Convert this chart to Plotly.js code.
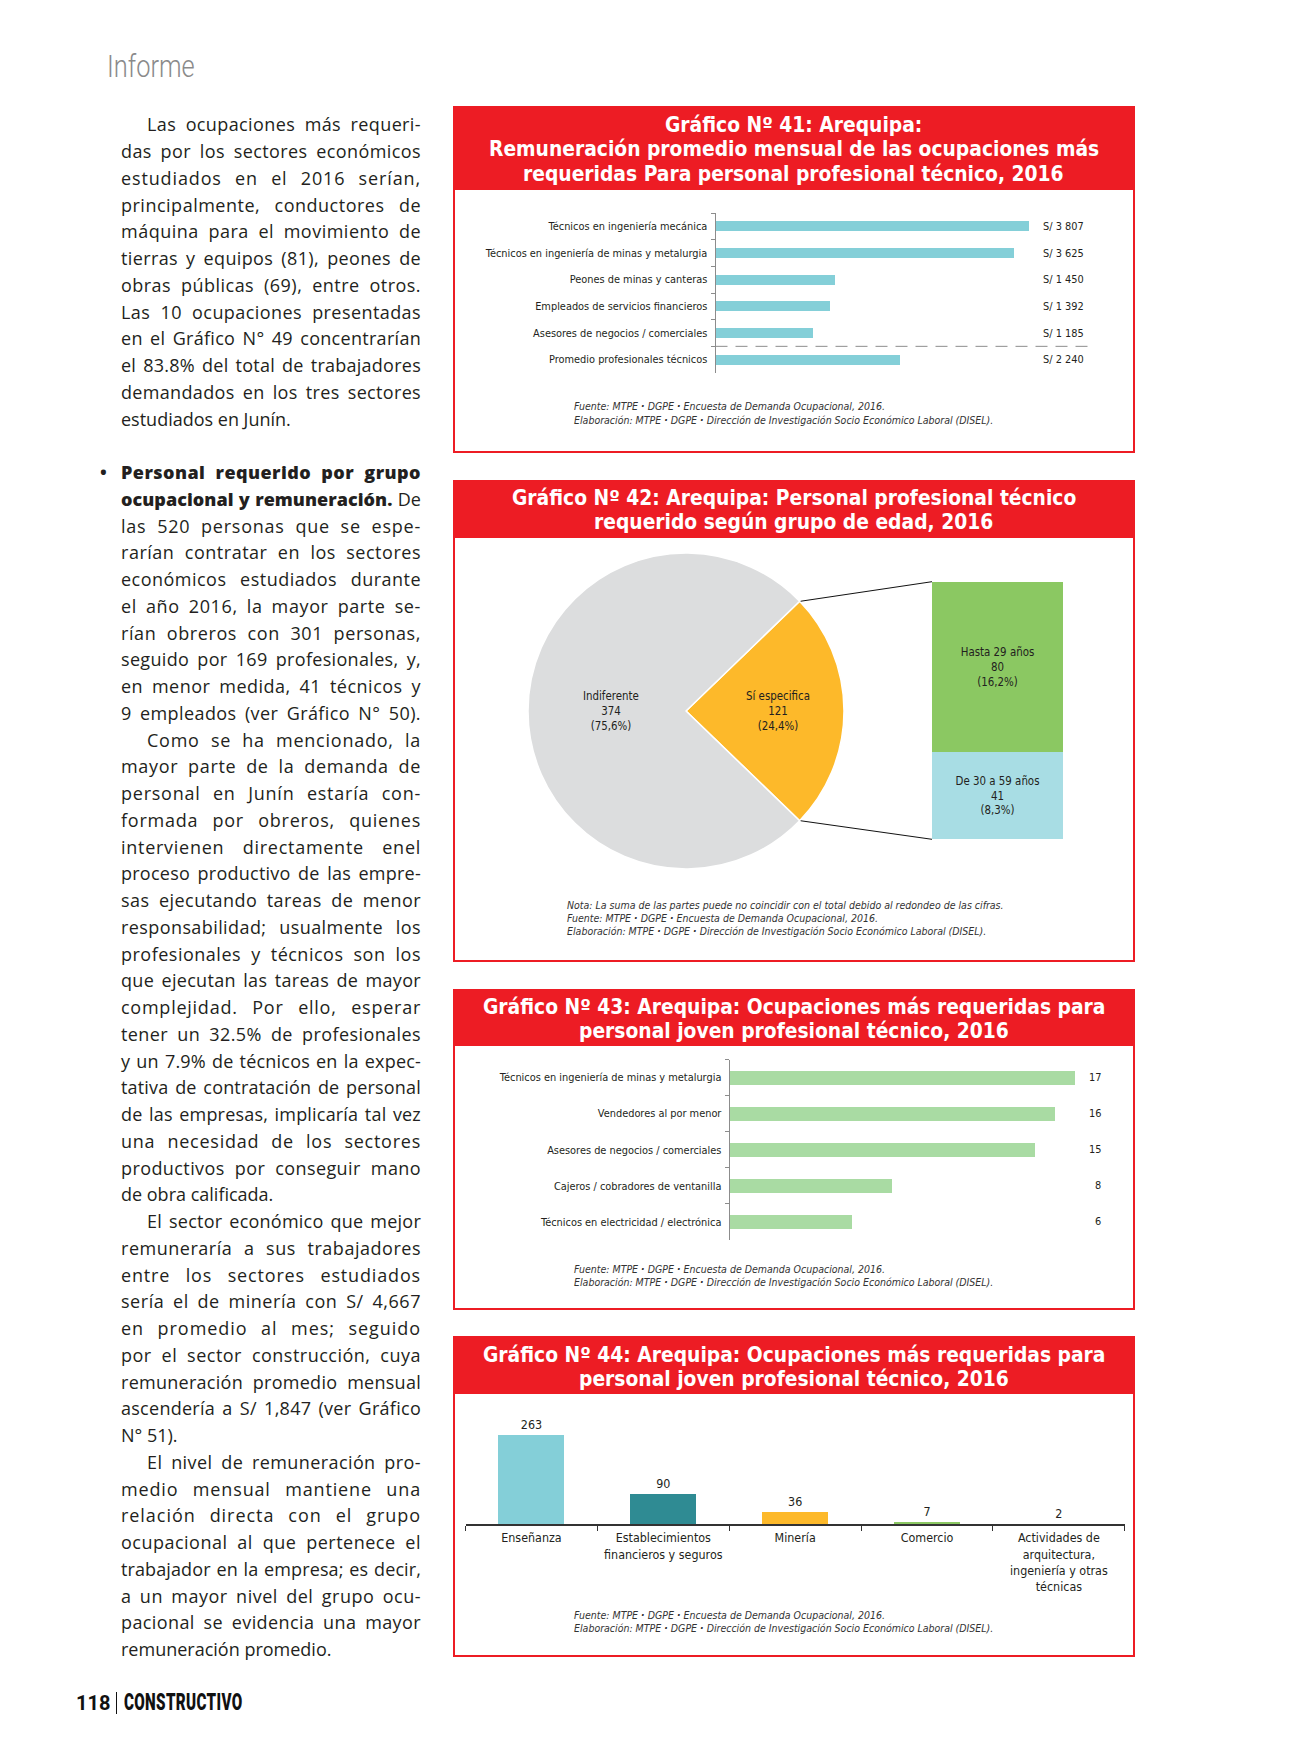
<!DOCTYPE html>
<html><head><meta charset="utf-8">
<script src="https://cdn.plot.ly/plotly-3.0.1.min.js"></script>
<style>
html,body{margin:0;padding:0;background:#fff;}
#page{position:relative;width:1291px;height:1763px;overflow:hidden;background:#fff;}
#chart{position:absolute;left:0;top:0;width:1291px;height:1763px;}
#informe{position:absolute;left:107px;top:50px;font-family:Roboto,sans-serif;font-weight:300;font-size:31px;color:#8a8a8a;transform:scaleX(0.82);transform-origin:left top;line-height:34px;}
#prose{position:absolute;left:121px;top:111.4px;width:300px;font-family:"Open Sans",sans-serif;font-size:18px;line-height:26.76px;color:#231f20;}
.ln{height:26.76px;overflow:visible;text-align:justify;text-align-last:justify;position:relative;}
.ln.last{text-align-last:left;}
.ln.ind{padding-left:26px;}
.ln b{font-weight:800;}
.bul{position:absolute;left:-21px;top:0;font-weight:700;}
#footer{position:absolute;left:76px;top:1689px;height:28px;font-family:Roboto,sans-serif;color:#111;}
#footer .num{position:absolute;left:0;top:0;font-weight:700;font-size:20px;line-height:28px;}
#footer .bar{position:absolute;left:40px;top:3px;width:1px;height:22px;background:#111;}
#footer .brand{position:absolute;left:48px;top:0;font-weight:900;font-size:23px;line-height:28px;transform:scaleX(0.66);transform-origin:left top;letter-spacing:0.5px;}
</style>
</head><body>
<div id="page">
<div id="chart"></div>
<div id="informe">Informe</div>
<div id="prose">
<div class="ln ind">Las ocupaciones más requeri-</div>
<div class="ln">das por los sectores económicos</div>
<div class="ln">estudiados en el 2016 serían,</div>
<div class="ln">principalmente, conductores de</div>
<div class="ln">máquina para el movimiento de</div>
<div class="ln">tierras y equipos (81), peones de</div>
<div class="ln">obras públicas (69), entre otros.</div>
<div class="ln">Las 10 ocupaciones presentadas</div>
<div class="ln">en el Gráfico N° 49 concentrarían</div>
<div class="ln">el 83.8% del total de trabajadores</div>
<div class="ln">demandados en los tres sectores</div>
<div class="ln last">estudiados en Junín.</div>
<div class="ln last">&nbsp;</div>
<div class="ln"><span class="bul">•</span><b>Personal requerido por grupo</b></div>
<div class="ln"><b>ocupacional y remuneración.</b> De</div>
<div class="ln">las 520 personas que se espe-</div>
<div class="ln">rarían contratar en los sectores</div>
<div class="ln">económicos estudiados durante</div>
<div class="ln">el año 2016, la mayor parte se-</div>
<div class="ln">rían obreros con 301 personas,</div>
<div class="ln">seguido por 169 profesionales, y,</div>
<div class="ln">en menor medida, 41 técnicos y</div>
<div class="ln">9 empleados (ver Gráfico N° 50).</div>
<div class="ln ind">Como se ha mencionado, la</div>
<div class="ln">mayor parte de la demanda de</div>
<div class="ln">personal en Junín estaría con-</div>
<div class="ln">formada por obreros, quienes</div>
<div class="ln">intervienen directamente enel</div>
<div class="ln">proceso productivo de las empre-</div>
<div class="ln">sas ejecutando tareas de menor</div>
<div class="ln">responsabilidad; usualmente los</div>
<div class="ln">profesionales y técnicos son los</div>
<div class="ln">que ejecutan las tareas de mayor</div>
<div class="ln">complejidad. Por ello, esperar</div>
<div class="ln">tener un 32.5% de profesionales</div>
<div class="ln">y un 7.9% de técnicos en la expec-</div>
<div class="ln">tativa de contratación de personal</div>
<div class="ln">de las empresas, implicaría tal vez</div>
<div class="ln">una necesidad de los sectores</div>
<div class="ln">productivos por conseguir mano</div>
<div class="ln last">de obra calificada.</div>
<div class="ln ind">El sector económico que mejor</div>
<div class="ln">remuneraría a sus trabajadores</div>
<div class="ln">entre los sectores estudiados</div>
<div class="ln">sería el de minería con S/ 4,667</div>
<div class="ln">en promedio al mes; seguido</div>
<div class="ln">por el sector construcción, cuya</div>
<div class="ln">remuneración promedio mensual</div>
<div class="ln">ascendería a S/ 1,847 (ver Gráfico</div>
<div class="ln last">N° 51).</div>
<div class="ln ind">El nivel de remuneración pro-</div>
<div class="ln">medio mensual mantiene una</div>
<div class="ln">relación directa con el grupo</div>
<div class="ln">ocupacional al que pertenece el</div>
<div class="ln">trabajador en la empresa; es decir,</div>
<div class="ln">a un mayor nivel del grupo ocu-</div>
<div class="ln">pacional se evidencia una mayor</div>
<div class="ln last">remuneración promedio.</div>
</div>
<div id="footer"><span class="num">118</span><span class="bar"></span><span class="brand">CONSTRUCTIVO</span></div>
</div>
<script>
// ---------------- DATA ----------------
const cat41 = ['Técnicos en ingeniería mecánica','Técnicos en ingeniería de minas y metalurgia','Peones de minas y canteras','Empleados de servicios financieros','Asesores de negocios / comerciales','Promedio profesionales técnicos'];
const val41 = [3807, 3625, 1450, 1392, 1185, 2240];

const pieLabels42 = ['Sí especifica','Indiferente'];
const pieValues42 = [121, 374];
const piePct42 = ['24,4%','75,6%'];
const ageLabels42 = ['De 30 a 59 años','Hasta 29 años'];
const ageValues42 = [41, 80];
const agePct42 = ['8,3%','16,2%'];

const cat43 = ['Técnicos en ingeniería de minas y metalurgia','Vendedores al por menor','Asesores de negocios / comerciales','Cajeros / cobradores de ventanilla','Técnicos en electricidad / electrónica'];
const val43 = [17, 16, 15, 8, 6];

const cat44 = ['Enseñanza','Establecimientos<br>financieros y seguros','Minería','Comercio','Actividades de<br>arquitectura,<br>ingeniería y otras<br>técnicas'];
const val44 = [263, 90, 36, 7, 2];

const titles = {
  g41: ['Gráfico Nº 41: Arequipa:','Remuneración promedio mensual de las ocupaciones más','requeridas Para personal profesional técnico, 2016'],
  g42: ['Gráfico Nº 42: Arequipa: Personal profesional técnico','requerido según grupo de edad, 2016'],
  g43: ['Gráfico Nº 43: Arequipa: Ocupaciones más requeridas para','personal joven profesional técnico, 2016'],
  g44: ['Gráfico Nº 44: Arequipa: Ocupaciones más requeridas para','personal joven profesional técnico, 2016']
};
const SEP = '§';
const srcFuente = 'Fuente: MTPE § DGPE § Encuesta de Demanda Ocupacional, 2016.';
const srcElab = 'Elaboración: MTPE § DGPE § Dirección de Investigación Socio Económico Laboral (DISEL).';
const srcNota = 'Nota: La suma de las partes puede no coincidir con el total debido al redondeo de las cifras.';

// ---------------- FONTS ----------------
const W = 1291, H = 1763;
const X = v => v / W, Y = v => 1 - v / H;
const ctx = document.createElement('canvas').getContext('2d');
function hasFont(f){
  const s = 'abcdefghijklmnopqrstuvwxyz ÁÉÍ 0123456789 WMQ';
  ctx.font = '40px monospace'; const a = ctx.measureText(s).width;
  ctx.font = '40px "' + f + '", monospace'; const b = ctx.measureText(s).width;
  return Math.abs(a - b) > 0.5;
}
const cond = ['Liberation Sans Narrow','Arial Narrow','DejaVu Sans Condensed'].find(hasFont);
const CF = cond ? '"' + cond + '", Roboto, sans-serif' : 'Roboto, sans-serif';
function fit(text, target, weight, style){
  ctx.font = (style||'normal') + ' ' + (weight||'normal') + ' 100px ' + CF;
  const w = ctx.measureText(text).width;
  return Math.round(100 * target / w * 10) / 10;
}
const TXT = '#231f20';
const RED = '#ed1c24';
const sTitle = Math.min(26, (fit(titles.g41[1], 610, 'bold') + fit(titles.g43[0], 624, 'bold')) / 2);
const sLab = Math.min(14, fit(cat43[0], 221));
const sSrc = Math.min(12, fit(srcElab.replace(/§/g,'·'), 417, 'normal', 'italic'));
const sPie = Math.min(14, fit('De 30 a 59 años', 84));
const s44 = Math.min(15, fit('Establecimientos', 95));
const sepHtml = '<b>·</b>';

// ---------------- TRACES ----------------
function soles(v){ const s = String(v); return 'S/ ' + (s.length > 3 ? s.slice(0, -3) + ' ' + s.slice(-3) : s); }

const traces = [];
traces.push({type:'bar', orientation:'h', x: val41, y: cat41, xaxis:'x', yaxis:'y', width:0.38,
  marker:{color:'#84cfd8'}, hoverinfo:'skip'});
traces.push({type:'bar', orientation:'h', x: val43, y: cat43, xaxis:'x2', yaxis:'y2', width:0.39,
  marker:{color:'#a9dba3'}, hoverinfo:'skip'});
traces.push({type:'bar', x: cat44, y: val44, xaxis:'x3', yaxis:'y3', width:0.5,
  marker:{color:['#84cfd8','#2f8b93','#fdb92a','#8bc862','#0e7a5f']},
  text: val44.map(String), textposition:'outside', cliponaxis:false,
  textfont:{family:CF, size:s44, color:TXT}, hoverinfo:'skip'});

const pieTot = pieValues42.reduce((a,b)=>a+b,0);
const half = pieValues42[0] / pieTot * 180;
traces.push({type:'pie', labels: pieLabels42, values: pieValues42, sort:false, direction:'clockwise',
  rotation: 90 - half, textinfo:'none', hoverinfo:'skip',
  marker:{colors:['#fdb92a','#dcddde'], line:{color:'#ffffff', width:1.5}},
  domain:{x:[X(528), X(844)], y:[Y(869), Y(553)]}});

const ageColors = ['#a8dde4','#8bc862'];
ageValues42.forEach((v,i)=>{
  traces.push({type:'bar', x:['edad'], y:[v], xaxis:'x4', yaxis:'y4', width:1,
    marker:{color:ageColors[i]}, hoverinfo:'skip',
    text:[ageLabels42[i] + '<br>' + v + '<br>(' + agePct42[i] + ')'],
    textposition:'inside', insidetextanchor:'middle', textangle:0, constraintext:'none',
    insidetextfont:{family:CF, size:sPie, color:TXT}});
});

// ---------------- LAYOUT ----------------
const catAxis = (dom, anchor) => ({domain: dom, anchor: anchor, type:'category', autorange:'reversed',
  showline:true, linecolor:'#8c8c8c', linewidth:1, ticks:'outside', tickson:'boundaries', ticklen:4,
  ticklabelstandoff:5,
  tickcolor:'#8c8c8c', tickfont:{family:CF, size:sLab, color:TXT}, showgrid:false, zeroline:false, fixedrange:true});

const sum42 = ageValues42.reduce((a,b)=>a+b,0);
const layout = {
  width:W, height:H, margin:{l:0,r:0,t:0,b:0,pad:0}, paper_bgcolor:'#ffffff', plot_bgcolor:'rgba(0,0,0,0)',
  showlegend:false, barmode:'stack', font:{family:CF, color:TXT},
  xaxis:{domain:[X(715.5), X(1090)], range:[0, 4551], visible:false, anchor:'y', fixedrange:true},
  yaxis: catAxis([Y(373), Y(213)], 'x'),
  xaxis2:{domain:[X(729.6), X(1090)], range:[0, 17.73], visible:false, anchor:'y2', fixedrange:true},
  yaxis2: catAxis([Y(1240), Y(1059.5)], 'x2'),
  xaxis3:{domain:[X(465.5), X(1124.8)], anchor:'y3', type:'category', range:[-0.5, 4.5],
    showline:true, linecolor:'#333333', linewidth:1.2, ticks:'outside', tickson:'boundaries', ticklen:5,
    ticklabelstandoff:2,
    tickcolor:'#333333', tickfont:{family:CF, size:s44, color:TXT}, showgrid:false, zeroline:false, fixedrange:true},
  yaxis3:{domain:[Y(1524.3), Y(1410)], range:[0, 336.6], visible:false, anchor:'x3', fixedrange:true},
  xaxis4:{domain:[X(932), X(1063)], range:[-0.5, 0.5], type:'category', visible:false, anchor:'y4', fixedrange:true},
  yaxis4:{domain:[Y(839.3), Y(581.7)], range:[0, sum42], visible:false, anchor:'x4', fixedrange:true},
  shapes:[], annotations:[]
};

// panels
const panels = [
  {top:106, hb:190, bottom:452},
  {top:480, hb:538, bottom:961},
  {top:989, hb:1046, bottom:1309},
  {top:1336, hb:1394, bottom:1656}
];
panels.forEach(p=>{
  layout.shapes.push({type:'rect', xref:'paper', yref:'paper', x0:X(453), x1:X(1135), y0:Y(p.hb), y1:Y(p.top),
    fillcolor:RED, line:{width:0}, layer:'below'});
  layout.shapes.push({type:'rect', xref:'paper', yref:'paper', x0:X(454), x1:X(1134), y0:Y(p.bottom), y1:Y(p.top+1),
    fillcolor:'rgba(0,0,0,0)', line:{color:RED, width:2}});
});
// dashed separator before the average (chart 41)
layout.shapes.push({type:'line', xref:'x domain', yref:'y', x0:0, x1:1, y0:cat41.length - 1.5, y1:cat41.length - 1.5,
  line:{color:'#8c8c8c', width:1, dash:'12px,8px'}});

// connector lines pie -> stacked box
const pcx = (528 + 844) / 2, pcy = (553 + 869) / 2, pr = 158;
const a1 = (90 - half) * Math.PI / 180, a2 = (90 + half) * Math.PI / 180;
const p1 = [pcx + pr * Math.sin(a1), pcy - pr * Math.cos(a1)];
const p2 = [pcx + pr * Math.sin(a2), pcy - pr * Math.cos(a2)];
layout.shapes.push({type:'line', xref:'paper', yref:'paper', x0:X(p1[0]+1), y0:Y(p1[1]), x1:layout.xaxis4.domain[0], y1:layout.yaxis4.domain[1], line:{color:'#111', width:1}});
layout.shapes.push({type:'line', xref:'paper', yref:'paper', x0:X(p2[0]+1), y0:Y(p2[1]), x1:layout.xaxis4.domain[0], y1:layout.yaxis4.domain[0], line:{color:'#111', width:1}});

// titles
function titleLines(lines, ys){
  lines.forEach((t,i)=>layout.annotations.push({xref:'paper', yref:'paper', x:X(794), y:Y(ys[i]), xanchor:'center', yanchor:'middle',
    text:'<b>' + t + '</b>', showarrow:false, font:{family:CF, size:sTitle, color:'#ffffff'}}));
}
titleLines(titles.g41, [125, 149.5, 174]);
titleLines(titles.g42, [497.7, 521.7]);
titleLines(titles.g43, [1006.7, 1030.5]);
titleLines(titles.g44, [1355, 1378.5]);

// sources
function srcLines(lines, x, ys){
  lines.forEach((t,i)=>layout.annotations.push({xref:'paper', yref:'paper', x:X(x), y:Y(ys[i]), xanchor:'left', yanchor:'middle',
    text:'<i>' + t.split(SEP).join(sepHtml) + '</i>', showarrow:false, font:{family:CF, size:sSrc, color:'#333333'}}));
}
srcLines([srcFuente, srcElab], 571.7, [406, 419.5]);
srcLines([srcNota, srcFuente, srcElab], 565, [905, 918, 931]);
srcLines([srcFuente, srcElab], 571.7, [1269, 1282]);
srcLines([srcFuente, srcElab], 571.7, [1615, 1628]);

// value labels chart 41 & 43
cat41.forEach((c,i)=>layout.annotations.push({xref:'paper', yref:'y', x:X(1041), y:c, xanchor:'left', yanchor:'middle',
  text:soles(val41[i]), showarrow:false, font:{family:CF, size:sLab, color:TXT}}));
cat43.forEach((c,i)=>layout.annotations.push({xref:'paper', yref:'y2', x:X(1103), y:c, xanchor:'right', yanchor:'middle',
  text:String(val43[i]), showarrow:false, font:{family:CF, size:sLab, color:TXT}}));

// pie labels
const pieTextPos = [[pcx + 0.58 * pr, pcy], [pcx - 0.475 * pr, pcy]];
pieLabels42.forEach((l,i)=>layout.annotations.push({xref:'paper', yref:'paper', x:X(pieTextPos[i][0]), y:Y(pieTextPos[i][1]),
  xanchor:'center', yanchor:'middle', showarrow:false, text: l + '<br>' + pieValues42[i] + '<br>(' + piePct42[i] + ')',
  font:{family:CF, size:sPie, color:TXT}}));

Plotly.newPlot('chart', traces, layout, {displayModeBar:false, staticPlot:true});

// ---------------- prose justification (letter + word spacing) ----------------
document.querySelectorAll('#prose .ln').forEach(el=>{
  if (el.classList.contains('last')) return;
  const avail = el.clientWidth - (el.classList.contains('ind') ? 26 : 0);
  const span = document.createElement('span');
  while (el.firstChild) span.appendChild(el.firstChild);
  el.appendChild(span);
  el.style.textAlignLast = 'left';
  const bul = span.querySelector('.bul');
  const w = span.getBoundingClientRect().width;
  const n = span.textContent.replace(/•/g,'').length;
  let ls;
  if (w > avail) ls = (avail - w) / n - 0.05;
  else ls = Math.min(1.6, (avail - w) * 0.45 / n);
  span.style.letterSpacing = ls.toFixed(2) + 'px';
  if (bul) { bul.style.letterSpacing = '0px'; el.appendChild(bul); }
  el.style.textAlignLast = 'justify';
});
</script>
</body></html>
